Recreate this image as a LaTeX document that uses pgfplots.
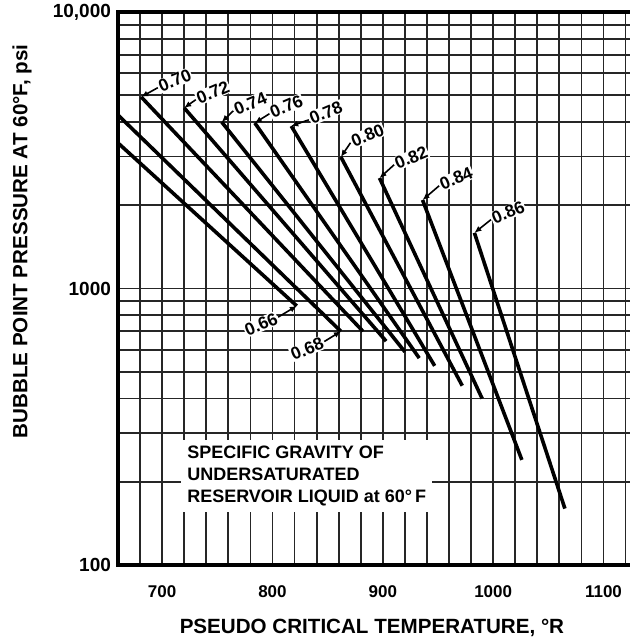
\documentclass[border=0pt]{standalone}
\usepackage{fontspec}
\setmainfont{Liberation Sans}
\usepackage{pgfplots}
\pgfplotsset{compat=1.18}
\usetikzlibrary{arrows.meta}

\begin{document}
\begin{tikzpicture}
\begin{axis}[
    name=ax,
    scale only axis,
    width=256pt, height=276.5pt,
    xmin=660, xmax=1124,
    ymode=log, ymin=100, ymax=10000,
    xtick={700,800,900,1000,1100},
    xticklabels={700,800,900,1000,1100},
    minor xtick={660,680,...,1120},
    ytick={100,1000,10000},
    yticklabels={100,1000,{10,000}},
    minor ytick={200,300,...,900,2000,3000,...,9000},
    grid=both,
    major grid style={black!85, line width=0.9pt},
    minor grid style={black!85, line width=0.9pt},
    major tick length=0pt, minor tick length=0pt,
    axis line style={draw=none},
    xticklabel style={font=\bfseries\fontsize{8.5}{10}\selectfont},
    yticklabel style={font=\bfseries\fontsize{9.5}{10}\selectfont},
    xticklabel shift=7pt,
    xlabel={PSEUDO CRITICAL TEMPERATURE, °R},
    ylabel={BUBBLE POINT PRESSURE AT 60°F, psi},
    label style={font=\bfseries\fontsize{10.3}{12}\selectfont},
    xlabel style={at={(axis description cs:0.496,-0.114)}, anchor=center},
    ylabel style={at={(axis description cs:-0.1875,0.585)}, anchor=center},
    clip=false,
]

% specific gravity lines, upper-left start to lower-right end
\addplot[line width=1.8pt] coordinates {(660,3360) (822,865)};   % 0.66
\addplot[line width=1.8pt] coordinates {(660,4240) (862,700)};   % 0.68
\addplot[line width=1.8pt] coordinates {(681,4930) (882,700)};   % 0.70
\addplot[line width=1.8pt] coordinates {(720,4500) (903,645)};   % 0.72
\addplot[line width=1.8pt] coordinates {(754,4000) (920,590)};   % 0.74
\addplot[line width=1.8pt] coordinates {(784,3970) (933,560)};   % 0.76
\addplot[line width=1.8pt] coordinates {(817,3870) (947,525)};   % 0.78
\addplot[line width=1.8pt] coordinates {(862,2990) (972,445)};   % 0.80
\addplot[line width=1.8pt] coordinates {(897,2510) (990,400)};   % 0.82
\addplot[line width=1.8pt] coordinates {(936,2090) (1026,240)};  % 0.84
\addplot[line width=1.8pt] coordinates {(983,1590) (1065,160)};  % 0.86

% curve labels with leaders
\tikzset{lbl/.style={rotate=23, fill=white, inner sep=0.4pt, font=\bfseries\fontsize{8.7}{10}\selectfont},
         ldr/.style={{Latex[length=3.5pt,width=3pt]}-, line width=0.8pt}}
\draw[ldr] (axis cs:681,4930) -- ++(8.3pt,4.6pt) node[lbl, anchor=west] {0.70};
\draw[ldr] (axis cs:720,4500) -- ++(5.8pt,4.1pt) node[lbl, anchor=west] {0.72};
\draw[ldr] (axis cs:754,4000) -- ++(5.8pt,5.6pt) node[lbl, anchor=west] {0.74};
\draw[ldr] (axis cs:784,3970) -- ++(7.3pt,4.6pt) node[lbl, anchor=west] {0.76};
\draw[ldr] (axis cs:817,3870) -- ++(8.8pt,3.1pt) node[lbl, anchor=west] {0.78};
\draw[ldr] (axis cs:862,2990) -- ++(4.8pt,7.1pt) node[lbl, anchor=west] {0.80};
\draw[ldr] (axis cs:897,2510) -- ++(7.3pt,6.6pt) node[lbl, anchor=west] {0.82};
\draw[ldr] (axis cs:936,2090) -- ++(8.3pt,7.1pt) node[lbl, anchor=west] {0.84};
\draw[ldr] (axis cs:983,1590) -- ++(8.3pt,6.6pt) node[lbl, anchor=west] {0.86};
\draw[ldr] (axis cs:822,865) -- ++(-9.3pt,-5.6pt) node[lbl, anchor=east] {0.66};
\draw[ldr] (axis cs:862,700) -- ++(-8.3pt,-5.1pt) node[lbl, anchor=east] {0.68};

\node[anchor=north west, align=left, fill=white, inner sep=3pt,
      font=\bfseries\fontsize{9}{11}\selectfont]
    at (axis cs:717,285) {SPECIFIC GRAVITY OF\\UNDERSATURATED\\RESERVOIR LIQUID at 60°\,F};
\end{axis}

% heavy frame on top, left and bottom (right side runs off the sheet)
\draw[line width=2.4pt] (ax.north east) -- (ax.north west) -- (ax.south west) -- (ax.south east);

\pgfresetboundingbox
\path ([shift={(-59pt,-38pt)}]ax.south west) rectangle ([shift={(0pt,6pt)}]ax.north east);
\end{tikzpicture}
\end{document}
